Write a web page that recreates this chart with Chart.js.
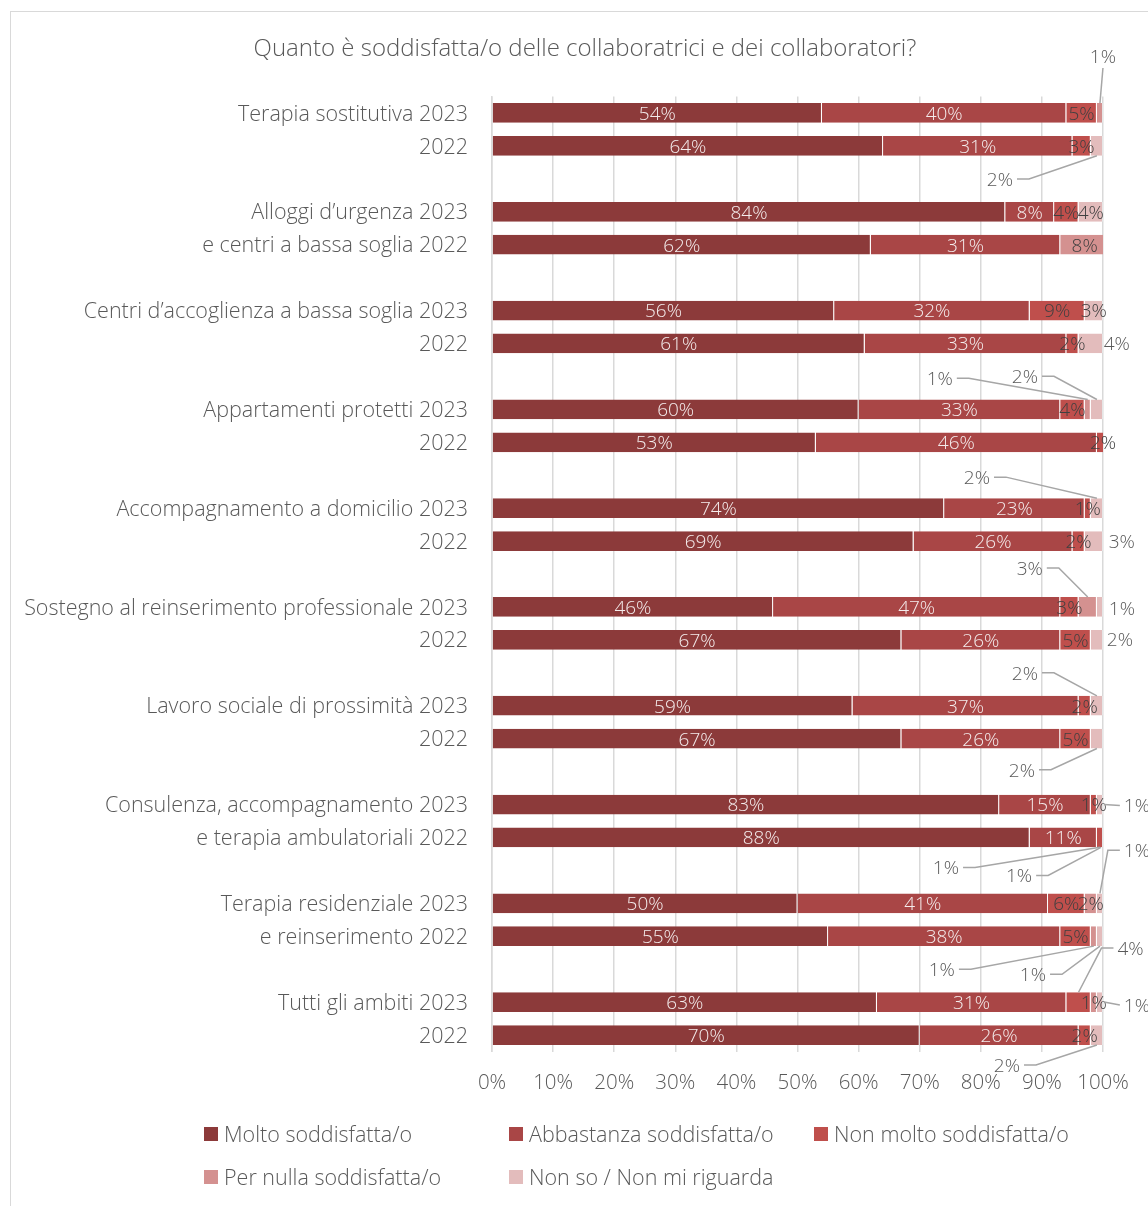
<!DOCTYPE html>
<html>
<head>
<meta charset="utf-8">
<script src="https://cdn.jsdelivr.net/npm/chart.js@4.4.1/dist/chart.umd.min.js"></script>
<style>
  html, body { margin: 0; padding: 0; background: #fff; }
  #wrap { position: relative; width: 1148px; height: 1206px; overflow: hidden; }
  #frame { position: absolute; left: 10px; top: 11px; width: 1200px; height: 1300px; border: 1px solid #d9d9d9; }
  canvas { position: absolute; left: 0; top: 0; }
</style>
</head>
<body>
<div id="wrap">
  <div id="frame"></div>
  <canvas id="chart" width="1148" height="1206"></canvas>
</div>
<script>
const title = "Quanto è soddisfatta/o delle collaboratrici e dei collaboratori?";

const categories = [
  "Terapia sostitutiva 2023", "2022", "",
  "Alloggi d’urgenza 2023", "e centri a bassa soglia 2022", "",
  "Centri d’accoglienza a bassa soglia 2023", "2022", "",
  "Appartamenti protetti 2023", "2022", "",
  "Accompagnamento a domicilio 2023", "2022", "",
  "Sostegno al reinserimento professionale 2023", "2022", "",
  "Lavoro sociale di prossimità 2023", "2022", "",
  "Consulenza, accompagnamento 2023", "e terapia ambulatoriali 2022", "",
  "Terapia residenziale 2023", "e reinserimento 2022", "",
  "Tutti gli ambiti 2023", "2022"
];

const seriesNames = ["Molto soddisfatta/o", "Abbastanza soddisfatta/o", "Non molto soddisfatta/o",
  "Per nulla soddisfatta/o", "Non so / Non mi riguarda"];

const molto      = [54, 64, null, 84, 62, null, 56, 61, null, 60, 53, null, 74, 69, null, 46, 67, null, 59, 67, null, 83, 88, null, 50, 55, null, 63, 70];
const abbastanza = [40, 31, null,  8, 31, null, 32, 33, null, 33, 46, null, 23, 26, null, 47, 26, null, 37, 26, null, 15, 11, null, 41, 38, null, 31, 26];
const nonMolto   = [ 5,  3, null,  4,  0, null,  9,  2, null,  4,  2, null,  1,  2, null,  3,  5, null,  2,  5, null,  1,  1, null,  6,  5, null,  4,  2];
const perNulla   = [ 1,  0, null,  0,  8, null,  0,  0, null,  1,  0, null,  0,  0, null,  3,  0, null,  0,  0, null,  0,  0, null,  2,  1, null,  1,  0];
const nonSo      = [ 0,  2, null,  4,  0, null,  3,  4, null,  2,  0, null,  2,  3, null,  1,  2, null,  2,  2, null,  1,  1, null,  1,  1, null,  1,  2];

const xTicks = [0, 10, 20, 30, 40, 50, 60, 70, 80, 90, 100];

const colors = ["#8c3a3a", "#a94646", "#bf4f4c", "#d49190", "#e3bcbc"];

// labels moved outside the bar: [row, series, dx, dy, leader line]
const callouts = [
  [0, 3, 3, -57, true], [1, 4, -97, 33, true],
  [7, 4, 26, 0, false],
  [9, 3, -148, -31, true], [9, 4, -72, -33, true],
  [12, 4, -120, -31, true], [13, 4, 28, 0, false],
  [15, 3, -58, -39, true], [15, 4, 22, 1, false], [16, 4, 23, -1, false],
  [18, 4, -72, -33, true], [19, 4, -75, 31, true],
  [21, 4, 37, 1, true], [22, 2, -154, 30, true], [22, 4, -87, 38, true],
  [24, 4, 37, -53, true], [25, 3, -152, 33, true], [25, 4, -67, 38, true],
  [27, 2, 52, -54, true], [27, 4, 37, 3, true], [28, 4, -90, 30, true]
];

const FONT = "'Open Sans', sans-serif";
const GREY = "#595959";

const labelPlugin = {
  id: "labels",
  afterDatasetsDraw(chart) {
    const ctx = chart.ctx;
    const area = chart.chartArea;
    ctx.save();
    ctx.font = "300 19px " + FONT;
    ctx.textBaseline = "middle";
    ctx.textAlign = "center";
    chart.data.datasets.forEach((ds, si) => {
      const meta = chart.getDatasetMeta(si);
      meta.data.forEach((bar, ri) => {
        const v = ds.data[ri];
        if (!v) return;
        const txt = v + "%";
        const x1 = Math.min(bar.x, area.right);
        const cx = (bar.base + bar.x) / 2, cy = bar.y;
        const co = callouts.find(c => c[0] === ri && c[1] === si);
        if (!co) {
          ctx.fillStyle = si < 2 ? "#f4ecec" : "#404040";
          ctx.fillText(txt, cx, cy + 1.5);
          return;
        }
        const lx = cx + co[2], ly = cy + co[3];
        const w = ctx.measureText(txt).width;
        ctx.fillStyle = GREY;
        ctx.fillText(txt, lx, ly + 1.5);
        if (!co[4]) return;
        const h = bar.height / 2;
        const tx = Math.min(cx, area.right - 2);
        ctx.strokeStyle = "#a6a6a6";
        ctx.lineWidth = 1.5;
        ctx.beginPath();
        if (Math.abs(co[2]) < 10) {
          ctx.moveTo(lx, ly + 12);
          ctx.lineTo(tx, cy - h);
        } else if (Math.abs(co[3]) < 8) {
          ctx.moveTo(lx - w / 2 - 4, ly);
          ctx.lineTo(x1 + 1, cy);
        } else {
          const dir = co[2] < 0 ? 1 : -1;
          const sx = lx + dir * (w / 2 + 4);
          ctx.moveTo(sx, ly);
          ctx.lineTo(sx + dir * 12, ly);
          ctx.lineTo(tx, co[3] < 0 ? cy - h : cy + h);
        }
        ctx.stroke();
      });
    });
    ctx.restore();
  },
  afterDraw(chart) {
    const ctx = chart.ctx;
    ctx.save();
    ctx.fillStyle = GREY;
    ctx.font = "300 24px " + FONT;
    ctx.textAlign = "center";
    ctx.textBaseline = "middle";
    ctx.fillText(title, 585, 49);
    // legend
    ctx.font = "300 21.5px " + FONT;
    ctx.textAlign = "left";
    chart.data.datasets.forEach((ds, i) => {
      const col = i % 3, row = Math.floor(i / 3);
      const x = 204 + col * 305, y = 1134 + row * 43;
      ctx.fillStyle = ds.backgroundColor;
      ctx.fillRect(x, y - 7, 14, 14);
      ctx.fillStyle = GREY;
      ctx.fillText(ds.label, x + 20, y + 1.5);
    });
    ctx.restore();
  }
};

const series = [molto, abbastanza, nonMolto, perNulla, nonSo];

new Chart(document.getElementById("chart"), {
  type: "bar",
  data: {
    labels: categories,
    datasets: series.map((d, i) => ({
      label: seriesNames[i],
      data: d,
      backgroundColor: colors[i],
      borderColor: "rgba(255,255,255,0.35)",
      borderWidth: { right: 1 },
      borderSkipped: false,
      clip: 0
    }))
  },
  options: {
    indexAxis: "y",
    responsive: false,
    animation: false,
    layout: { padding: { top: 96.5, right: 45, bottom: 104.5, left: 0 } },
    datasets: { bar: { categoryPercentage: 1, barPercentage: 0.6 } },
    plugins: {
      legend: { display: false },
      title: { display: false },
      tooltip: { enabled: false }
    },
    scales: {
      x: {
        stacked: true,
        min: 0,
        max: 100,
        afterBuildTicks: s => { s.ticks = xTicks.map(v => ({ value: v })); },
        afterFit: s => { s.height = 50; },
        ticks: { color: GREY, font: { family: FONT, size: 20.5, weight: 300 }, padding: 19, callback: v => v + "%" },
        grid: { color: "#d9d9d9", lineWidth: 1.5, drawTicks: false },
        border: { display: false }
      },
      y: {
        stacked: true,
        afterFit: s => { s.width = 492; },
        ticks: { color: GREY, font: { family: FONT, size: 21.5, weight: 300 }, padding: 24, labelOffset: 1.5, autoSkip: false },
        grid: { display: false, drawTicks: false },
        border: { display: true, color: "#d9d9d9", width: 1.5 }
      }
    }
  },
  plugins: [labelPlugin]
});
</script>
</body>
</html>
